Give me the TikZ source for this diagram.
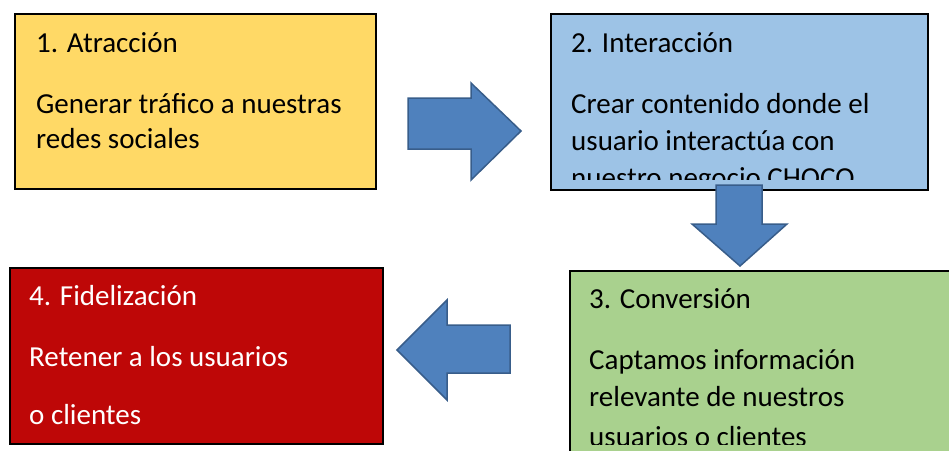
\documentclass[tikz,border=0pt]{standalone}
\usepackage{fontspec}
\setmainfont{Carlito}
\definecolor{yel}{HTML}{FFD966}
\definecolor{blu}{HTML}{9DC3E6}
\definecolor{grn}{HTML}{A9D18E}
\definecolor{rd}{HTML}{BE0707}
\definecolor{arrfill}{HTML}{4F81BD}
\definecolor{arrline}{HTML}{385D8A}
\tikzset{
  boxst/.style={draw=black, line width=1.5pt, inner sep=0pt, anchor=north west},
  txt/.style={anchor=base west, inner sep=0pt, font=\fontsize{29}{35}\selectfont},
  blockarrow/.style={fill=arrfill, draw=arrline, line width=1.5pt, line join=miter}
}
\begin{document}
\begin{tikzpicture}[x=1pt, y=-1pt]
\useasboundingbox (0,0) rectangle (949,450);
% boxes
\node[boxst, fill=yel, minimum width=361pt, minimum height=175pt] (b1) at (14,13) {};
\node[boxst, fill=blu, minimum width=377pt, minimum height=176pt] (b2) at (550,13) {};
\node[boxst, fill=grn, minimum width=400pt, minimum height=200pt] (b3) at (569,270) {};
\node[boxst, fill=rd, minimum width=373pt, minimum height=176pt] (b4) at (9,267) {};
% box 1 text
\node[txt] (t1a) at (36,52) {1. Atracción};
\node[txt] (t1b) at (36,113) {Generar tráfico a nuestras};
\node[txt] (t1c) at (36,148) {redes sociales};
% box 2 text (clipped)
\begin{scope}
\clip (551,14) rectangle (926,179);
\node[txt] (t2a) at (571,52) {2. Interacción};
\node[txt] (t2b) at (571,113) {Crear contenido donde el};
\node[txt] (t2c) at (571,150) {usuario interactúa con};
\node[txt] (t2d) at (571,187) {nuestro negocio CHOCO};
\end{scope}
% box 3 text (clipped)
\begin{scope}
\clip (570,271) rectangle (949,444);
\node[txt] (t3a) at (589,308) {3. Conversión};
\node[txt] (t3b) at (589,369) {Captamos información};
\node[txt] (t3c) at (589,406) {relevante de nuestros};
\node[txt] (t3d) at (589,446) {usuarios o clientes};
\end{scope}
% box 4 text
\node[txt, text=white] (t4a) at (29,305) {4. Fidelización};
\node[txt, text=white] (t4b) at (29,366) {Retener a los usuarios};
\node[txt, text=white] (t4c) at (29,424) {o clientes};
% block arrows
\draw[blockarrow] (408,98) -- (471,98) -- (471,83) -- (521,131) -- (471,180) -- (471,149) -- (408,149) -- cycle;
\draw[blockarrow] (716,185) -- (762,185) -- (762,224) -- (787,224) -- (740,266) -- (692,224) -- (716,224) -- cycle;
\draw[blockarrow] (510,325) -- (447,325) -- (447,300) -- (397,350) -- (447,400) -- (447,373) -- (510,373) -- cycle;
\end{tikzpicture}
\end{document}
